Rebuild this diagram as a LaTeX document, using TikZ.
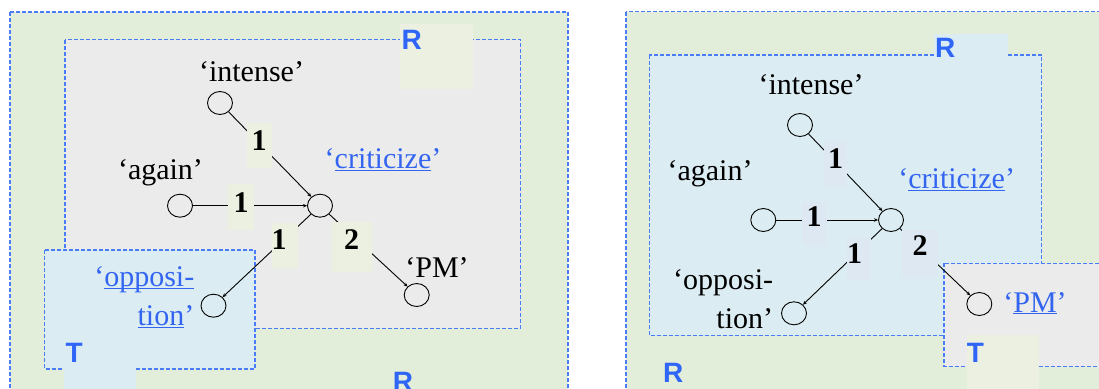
\documentclass[tikz,border=0pt]{standalone}
\usepackage{fontspec}
\setmainfont{Liberation Serif}
\newfontfamily\lblfont{Liberation Sans}
\usetikzlibrary{arrows.meta,shapes.geometric}
\definecolor{outg}{HTML}{E2EED9}
\definecolor{gry}{HTML}{EBEBEB}
\definecolor{lblue}{HTML}{DBEDF3}
\definecolor{dashb}{HTML}{4A7CF7}
\definecolor{linkb}{HTML}{3465F0}
\definecolor{tagb}{HTML}{2F66F8}
\definecolor{patchg}{HTML}{EBF0E0}
\definecolor{patchb}{HTML}{DDE8F2}
\newcommand{\ulk}[1]{\underline{\smash{#1}}}
\begin{document}
\begin{tikzpicture}[x=1pt,y=-1pt,
  region/.style={draw=dashb,line width=1.1pt,dash pattern=on 4pt off 2pt},
  vert/.style={ellipse,draw,line width=0.9pt,minimum width=25pt,minimum height=23pt,inner sep=0pt},
  word/.style={font=\fontsize{30}{39}\selectfont,inner sep=0pt},
  linkw/.style={word,text=linkb},
  edge/.style={line width=0.9pt,-{Stealth[length=4pt,width=3.5pt]}},
  num/.style={font=\fontsize{30}{36}\selectfont\bfseries,inner sep=0pt,text height=20.3pt,text depth=10pt},
  tag/.style={font=\lblfont\fontsize{28}{28}\selectfont\bfseries,text=tagb,inner sep=0pt,anchor=north west},
]
\useasboundingbox (0,0) rectangle (1099,388);
\clip (0,0) rectangle (1099,388);
\fill[white] (0,0) rectangle (1099,388);

% ---------- left panel ----------
\filldraw[fill=outg,region] (10,12) rectangle (568,410);
\filldraw[fill=gry,region] (65,39.5) rectangle (520.5,328.3);
\fill[patchg] (400,24) rectangle (473,89);
\node[tag] (LR1) at (401.5,30) {R};
\filldraw[fill=lblue,region] (44.7,250) rectangle (255,369);
\fill[lblue] (64,340) rectangle (135.6,400);
\node[tag] (LT) at (65.5,343) {T};
\node[tag] (LR2) at (392.7,372) {R};

\node[vert] (Li) at (220,103) {};
\node[vert] (La) at (180,205.7) {};
\node[vert] (Lc) at (320,205.7) {};
\node[vert] (Lp) at (416.7,295) {};
\node[vert] (Lo) at (213.5,305.7) {};
\draw[edge] (Li) -- (Lc);
\draw[edge] (La) -- (Lc);
\draw[edge] (Lc) -- (Lo);
\draw[edge] (Lc) -- (Lp);
\node[num,fill=patchg,minimum width=25pt,minimum height=45pt] (Ln1) at (259.2,145.5) {1};
\node[num,fill=patchg,minimum width=26pt,minimum height=46pt,text depth=9pt] (Ln2) at (241,207) {1};
\node[num,fill=patchg,minimum width=26.6pt,minimum height=45pt,text depth=12pt] (Ln3) at (285,245.5) {\makebox[26.6pt][l]{1}};
\node[num,fill=patchg,minimum width=40pt,minimum height=50pt,text depth=14pt] (Ln4) at (351.7,246.7) {2};

\node[word] (Lti) at (251.5,72) {‘intense’};
\node[word] (Lta) at (160.5,173) {‘again’};
\node[linkw] (Ltc) at (383,160) {‘\ulk{criticize}’};
\node[word] (Ltp) at (437,268) {‘PM’};
\node[linkw,align=right,anchor=east] (Lto) at (194.5,297.5) {‘\ulk{opposi-}\\\ulk{tion}’};

% ---------- right panel ----------
\filldraw[fill=outg,region] (626,11.7) rectangle (1110,410);
\filldraw[fill=lblue,region] (649.3,55) rectangle (1041.7,335.7);
\fill[lblue] (934,34) rectangle (1007.7,100);
\node[tag] (RR1) at (935,38.3) {R};
\filldraw[fill=gry,region] (944,263.3) rectangle (1110,366.7);
\fill[patchg] (966.7,335) rectangle (1039.3,400);
\node[tag] (RT) at (966.7,343) {T};
\node[tag] (RR2) at (663,363) {R};

\node[vert] (Ri) at (800,125) {};
\node[vert] (Ra) at (763.3,220) {};
\node[vert] (Rc) at (891,220) {};
\node[vert] (Rp) at (979.3,304) {};
\node[vert] (Ro) at (794,313.3) {};
\draw[edge] (Ri) -- (Rc);
\draw[edge] (Ra) -- (Rc);
\draw[edge] (Rc) -- (Ro);
\draw[edge] (Rc) -- (Rp);
\node[num,fill=patchb,minimum width=23.3pt,minimum height=46.7pt] (Rn1) at (835.7,163.3) {1};
\node[num,fill=patchb,minimum width=25pt,minimum height=43.3pt,text depth=13pt] (Rn2) at (814.2,223.3) {1};
\node[num,fill=patchb,minimum width=23.7pt,minimum height=43.3pt,text depth=10pt] (Rn3) at (858.9,258.3) {\makebox[23.7pt][l]{1}};
\node[num,fill=patchb,minimum width=36.6pt,minimum height=46.7pt,text depth=15pt] (Rn4) at (920,253.3) {2};

\node[word] (Rti) at (811,85) {‘intense’};
\node[word] (Rta) at (710,173.3) {‘again’};
\node[linkw] (Rtc) at (956.7,180) {‘\ulk{criticize}’};
\node[word,align=right,anchor=east] (Rto) at (773.3,299) {‘opposi-\\tion’};
\node[linkw] (Rtp) at (1035,303.3) {‘\ulk{PM}’};
\end{tikzpicture}
\end{document}
